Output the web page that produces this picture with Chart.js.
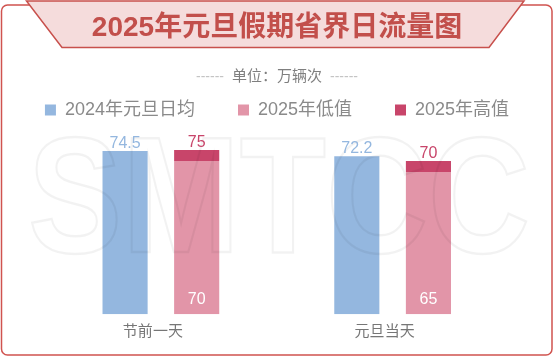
<!DOCTYPE html>
<html>
<head>
<meta charset="utf-8">
<script src="https://cdn.jsdelivr.net/npm/chart.js@4"></script>
<style>
html,body{margin:0;padding:0;background:#fff;}
#c{display:block;}
</style>
</head>
<body>
<canvas id="c" width="554" height="357"></canvas>
<script>
// ---- data ----
const categories = ['节前一天', '元旦当天'];
const avg2024 = [74.5, 72.2];
const low2025 = [70, 65];
const high2025 = [75, 70];
const seriesNames = ['2024年元旦日均', '2025年低值', '2025年高值'];
const titleText = '2025年元旦假期省界日流量图';
const unitText = '单位：万辆次';
const watermarkText = 'SMTCC';

const FONT = 'Liberation Sans, "Noto Sans CJK SC", sans-serif';
const C_BLUE = '#94b7df';
const C_PINK = '#e295a8';
const C_DARK = '#c8456a';

const decorPlugin = {
  id: 'decor',
  beforeDraw(chart) {
    const ctx = chart.ctx;
    ctx.save();
    ctx.fillStyle = '#fff';
    ctx.fillRect(0, 0, chart.width, chart.height);
    // outer frame
    ctx.strokeStyle = '#d0534f';
    ctx.lineWidth = 1.5;
    ctx.beginPath();
    ctx.roundRect(1.5, 5, 550.5, 350, 6);
    ctx.stroke();
    // banner
    ctx.beginPath();
    ctx.moveTo(26.5, 1);
    ctx.lineTo(524, 1);
    ctx.lineTo(489, 47.5);
    ctx.lineTo(62, 47.5);
    ctx.closePath();
    ctx.fillStyle = '#f5dcdc';
    ctx.fill();
    ctx.strokeStyle = '#c8504c';
    ctx.stroke();
    // unit line
    ctx.font = '15px ' + FONT;
    ctx.textBaseline = 'middle';
    ctx.textAlign = 'center';
    ctx.fillStyle = '#7f7f7f';
    ctx.fillText(unitText, 277, 77);
    const tw = ctx.measureText(unitText).width;
    ctx.font = '14px ' + FONT;
    ctx.fillStyle = '#c4c4c4';
    ctx.textAlign = 'right';
    ctx.fillText('------', 277 - tw / 2 - 8, 77);
    ctx.textAlign = 'left';
    ctx.fillText('------', 277 + tw / 2 + 8, 77);
    ctx.restore();
  },
  afterDatasetsDraw(chart) {
    const ctx = chart.ctx;
    ctx.save();
    // watermark
    ctx.font = 'bold 166px ' + FONT;
    const w = ctx.measureText(watermarkText).width;
    const sx = 502 / w;
    ctx.translate(279, 252);
    ctx.scale(sx, 1);
    ctx.textAlign = 'center';
    ctx.textBaseline = 'alphabetic';
    ctx.strokeStyle = 'rgba(0,0,0,0.05)';
    ctx.lineWidth = 2.5;
    ctx.strokeText(watermarkText, 0, 0);
    ctx.restore();

    // value labels
    ctx.save();
    ctx.font = '16px ' + FONT;
    ctx.textAlign = 'center';
    ctx.textBaseline = 'alphabetic';
    const m0 = chart.getDatasetMeta(0), m1 = chart.getDatasetMeta(1), m2 = chart.getDatasetMeta(2);
    m0.data.forEach((bar, i) => {
      ctx.fillStyle = C_BLUE;
      ctx.fillText(String(avg2024[i]), bar.x, bar.y - 3.5);
    });
    m2.data.forEach((bar, i) => {
      ctx.fillStyle = C_DARK;
      ctx.fillText(String(high2025[i]), bar.x, bar.y - 3);
    });
    m1.data.forEach((bar, i) => {
      ctx.fillStyle = '#ffffff';
      ctx.fillText(String(low2025[i]), bar.x, bar.base - 10);
    });
    ctx.restore();
  }
};

const hiddenAxis = (pos, width) => ({
  position: pos,
  display: true,
  grid: { display: false, drawTicks: false },
  border: { display: false },
  ticks: { display: false },
  afterFit: (s) => { s.width = width; }
});

new Chart(document.getElementById('c'), {
  type: 'bar',
  data: {
    labels: categories,
    datasets: [
      { label: seriesNames[0], data: avg2024, backgroundColor: C_BLUE, stack: 'a' },
      { label: seriesNames[1], data: low2025, backgroundColor: C_PINK, stack: 'b' },
      { label: seriesNames[2], data: low2025.map((v, i) => [v, high2025[i]]), backgroundColor: C_DARK, stack: 'b' }
    ]
  },
  options: {
    responsive: false,
    animation: false,
    devicePixelRatio: 1,
    categoryPercentage: 0.618,
    barPercentage: 0.63,
    layout: { padding: { left: 0, right: 0, top: 0, bottom: 6.7 } },
    plugins: {
      title: {
        display: true,
        text: titleText,
        color: '#c24f4b',
        font: { family: FONT, size: 28, weight: 'bold' },
        padding: { top: 11, bottom: 13.4 }
      },
      legend: {
        display: true,
        position: 'top',
        labels: {
          boxWidth: 11,
          boxHeight: 11,
          padding: 43,
          color: '#8a8a8a',
          font: { family: FONT, size: 18 }
        }
      },
      tooltip: { enabled: false }
    },
    scales: {
      x: {
        stacked: true,
        grid: { display: false, drawTicks: false },
        border: { display: false },
        ticks: { color: '#767676', font: { family: FONT, size: 15 }, padding: 9, labelOffset: -8 }
      },
      y: Object.assign(hiddenAxis('left', 45), { stacked: false, min: 0, max: 84.6 }),
      y2: Object.assign(hiddenAxis('right', 45.5), { min: 0, max: 1 })
    }
  },
  plugins: [decorPlugin]
});
</script>
</body>
</html>
